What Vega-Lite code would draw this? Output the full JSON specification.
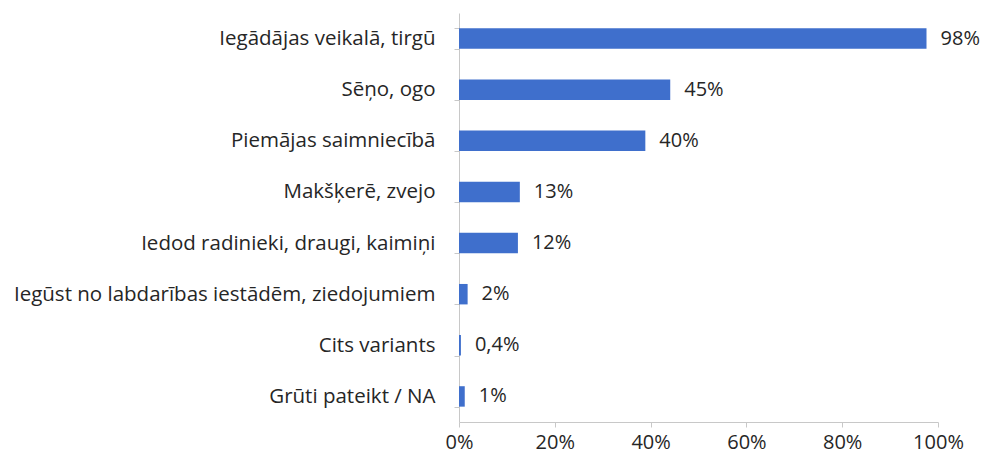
{
  "$schema": "https://vega.github.io/schema/vega-lite/v6.json",
  "width": 479,
  "height": 409,
  "autosize": "none",
  "padding": {"left": 459, "top": 13, "right": 44, "bottom": 39},
  "background": "white",
  "data": {
    "values": [
      {"cat": "Iegādājas veikalā, tirgū", "value": 97.6, "label": "98%"},
      {"cat": "Sēņo, ogo", "value": 44.1, "label": "45%"},
      {"cat": "Piemājas saimniecībā", "value": 38.9, "label": "40%"},
      {"cat": "Makšķerē, zvejo", "value": 12.7, "label": "13%"},
      {"cat": "Iedod radinieki, draugi, kaimiņi", "value": 12.3, "label": "12%"},
      {"cat": "Iegūst no labdarības iestādēm, ziedojumiem", "value": 1.8, "label": "2%"},
      {"cat": "Cits variants", "value": 0.4, "label": "0,4%"},
      {"cat": "Grūti pateikt / NA", "value": 1.2, "label": "1%"}
    ]
  },
  "encoding": {
    "y": {
      "field": "cat", "type": "nominal", "sort": null, "title": null,
      "scale": {"paddingInner": 0.6, "paddingOuter": 0.3},
      "axis": {
        "domain": true, "domainColor": "#c8c8c8", "ticks": true, "tickColor": "#c8c8c8",
        "tickSize": 5, "tickBand": "extent", "labelPadding": 19,
        "labelFont": "Open Sans", "labelFontSize": 20.5, "labelColor": "#262626",
        "labelLimit": 600
      }
    },
    "x": {
      "field": "value", "type": "quantitative", "title": null,
      "scale": {"domain": [0, 100], "nice": false},
      "axis": {
        "values": [0, 20, 40, 60, 80, 100], "labelExpr": "datum.value + '%'",
        "grid": false, "domainColor": "#c8c8c8", "tickColor": "#c8c8c8", "tickSize": 5,
        "labelPadding": 5, "labelFont": "Open Sans", "labelFontSize": 20, "labelColor": "#262626",
        "labelFlush": false
      }
    }
  },
  "layer": [
    {"mark": {"type": "bar", "color": "#3f6fcc"}},
    {
      "mark": {"type": "text", "align": "left", "dx": 14, "font": "Open Sans", "fontSize": 20, "color": "#262626"},
      "encoding": {"text": {"field": "label"}}
    }
  ],
  "config": {"view": {"stroke": null}}
}
